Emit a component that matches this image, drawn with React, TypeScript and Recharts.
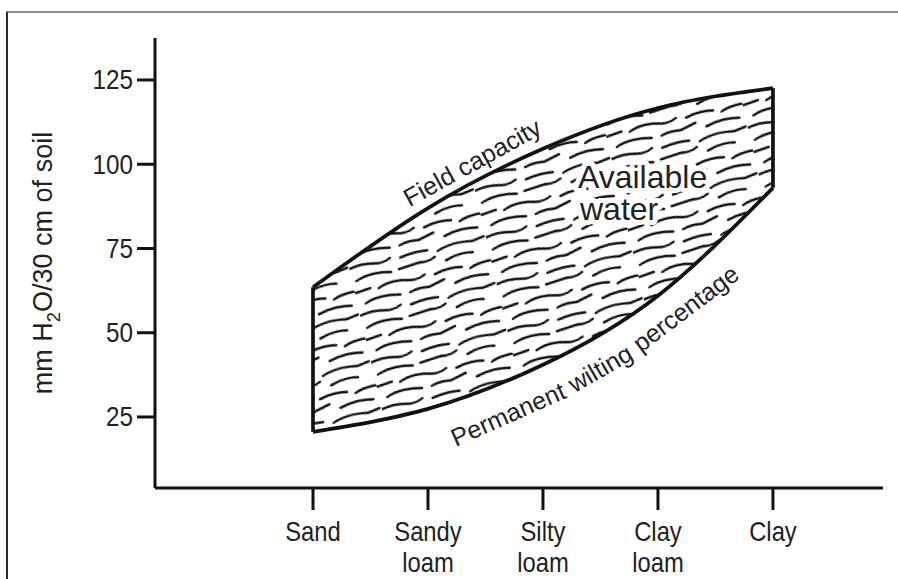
import React from 'react';
import { ComposedChart, Area, Line, XAxis, YAxis, ReferenceLine, ReferenceDot } from 'recharts';

const categories = ['Sand', 'Sandy loam', 'Silty loam', 'Clay loam', 'Clay'];
const categoryIndex = [0, 1, 2, 3, 4];
const fieldCapacity = [63.5, 87, 104.6, 116.7, 122.6];
const wiltingPercentage = [20.6, 27.4, 40.5, 61, 93];
const yTicks = [25, 50, 75, 100, 125];

const data = categories.map((c, i) => ({
  x: categoryIndex[i],
  name: c,
  fc: fieldCapacity[i],
  pwp: wiltingPercentage[i],
  range: [wiltingPercentage[i], fieldCapacity[i]],
}));

const FONT = "'Liberation Sans', Arial, Helvetica, sans-serif";
const INK = '#111';

const hatchPaths = [
  'M-4 6 Q10 1 26 5 Q34 7 42 3',
  'M52 5 Q66 2 80 4',
  'M90 7 Q106 1 126 5 L138 3',
  'M4 18 Q20 12 40 17',
  'M48 16 L70 14 Q78 16 86 12',
  'M96 18 Q110 13 124 16',
  'M-2 30 L16 28',
  'M24 30 Q38 24 56 29 Q64 31 72 27',
  'M82 29 Q96 25 110 28',
  'M118 31 Q128 27 142 28',
  'M8 42 Q22 36 44 41',
  'M54 41 Q62 38 74 40 L90 36',
  'M100 42 Q116 37 134 41',
];

const XTick = (props: any) => {
  const { x, y, payload } = props;
  const label = categories[payload.value] ?? '';
  const parts = label.split(' ');
  return (
    <g>
      {parts.map((p: string, i: number) => (
        <g key={i} transform={`translate(${x}, ${y + 27 + i * 31}) scale(0.85, 1)`}>
          <text x={0} y={0} textAnchor="middle" fontSize={28} fontFamily={FONT} fill="#222">
            {p}
          </text>
        </g>
      ))}
    </g>
  );
};

const YTick = (props: any) => {
  const { x, y, payload } = props;
  return (
    <g transform={`translate(${x}, ${y}) scale(0.9, 1)`}>
      <text x={0} y={0} textAnchor="end" dominantBaseline="central" fontSize={27} fontFamily={FONT} fill="#222">
        {payload.value}
      </text>
    </g>
  );
};

const YLabel = (props: any) => {
  const vb = props.viewBox || { x: 25, y: 38, width: 130, height: 450 };
  const cx = vb.x + 18;
  const cy = vb.y + vb.height / 2;
  return (
    <text
      x={cx}
      y={cy}
      transform={`rotate(-90, ${cx}, ${cy})`}
      textAnchor="middle"
      dominantBaseline="central"
      fontSize={27}
      fontFamily={FONT}
      fill="#222"
    >
      mm H<tspan baselineShift="sub" fontSize="68%">2</tspan>O/30 cm of soil
    </text>
  );
};

const makeText = (text: string, angle: number, size: number, anchor: string = 'middle', baseline: string = 'central', halo = false) =>
  (p: any) => (
    <text
      x={p.cx}
      y={p.cy}
      transform={`rotate(${angle}, ${p.cx}, ${p.cy})`}
      textAnchor={anchor as any}
      dominantBaseline={baseline as any}
      fontSize={size}
      fontFamily={FONT}
      fill="#222"
      stroke={halo ? '#fff' : 'none'}
      strokeWidth={halo ? 10 : 0}
      strokeLinejoin="round"
      paintOrder="stroke"
    >
      {text}
    </text>
  );

export default function App() {
  return (
    <div style={{ position: 'absolute', left: 0, top: 0, width: 898, height: 579, background: '#fff', overflow: 'hidden' }}>
      <div
        style={{
          position: 'absolute',
          left: 6,
          top: 11,
          right: -4,
          bottom: -4,
          borderTop: '2px solid #8a8a8a',
          borderLeft: '2px solid #2a2a2a',
        }}
      />
      <ComposedChart
        width={898}
        height={579}
        data={data}
        margin={{ top: 38, right: 15, bottom: 0, left: 25 }}
        style={{ position: 'absolute', left: 0, top: 0 }}
      >
        <defs>
          <pattern id="hatch" patternUnits="userSpaceOnUse" width="140" height="48" patternTransform="rotate(-13)">
            {hatchPaths.map((d, i) => (
              <path key={i} d={d} fill="none" stroke={INK} strokeWidth={2.4} strokeLinecap="round" />
            ))}
          </pattern>
        </defs>
        <XAxis
          type="number"
          dataKey="x"
          domain={[-1.374, 4.957]}
          allowDataOverflow
          ticks={categoryIndex}
          interval={0}
          tick={<XTick />}
          tickSize={22}
          tickMargin={4}
          height={91}
          axisLine={{ stroke: INK, strokeWidth: 3 }}
          tickLine={{ stroke: INK, strokeWidth: 3 }}
        />
        <YAxis
          type="number"
          domain={[3.93, 137.46]}
          allowDataOverflow
          ticks={yTicks}
          interval={0}
          width={130}
          tickSize={18}
          tickMargin={4}
          tick={<YTick />}
          axisLine={{ stroke: INK, strokeWidth: 3 }}
          tickLine={{ stroke: INK, strokeWidth: 3 }}
          label={<YLabel />}
        />
        <Area type="natural" dataKey="range" stroke="none" fill="url(#hatch)" fillOpacity={1} isAnimationActive={false} />
        <Line type="natural" dataKey="fc" stroke={INK} strokeWidth={3.7} dot={false} isAnimationActive={false} />
        <Line type="natural" dataKey="pwp" stroke={INK} strokeWidth={3.7} dot={false} isAnimationActive={false} />
        <ReferenceLine
          segment={[{ x: categoryIndex[0], y: wiltingPercentage[0] }, { x: categoryIndex[0], y: fieldCapacity[0] }]}
          stroke={INK}
          strokeWidth={3.7}
        />
        <ReferenceLine
          segment={[{ x: categoryIndex[4], y: wiltingPercentage[4] }, { x: categoryIndex[4], y: fieldCapacity[4] }]}
          stroke={INK}
          strokeWidth={3.7}
        />
        <ReferenceDot x={1.383} y={100.6} r={0} shape={makeText('Field capacity', -29, 25)} />
        <ReferenceDot x={1.696} y={25.9} r={0} shape={makeText('Permanent', -24, 25)} />
        <ReferenceDot x={2.496} y={39.5} r={0} shape={makeText('wilting', -30, 25)} />
        <ReferenceDot x={3.239} y={57.3} r={0} shape={makeText('percentage', -37, 25)} />
        <ReferenceDot x={2.304} y={92.95} r={0} shape={makeText('Available', 0, 32, 'start', 'auto', true)} />
        <ReferenceDot x={2.322} y={83.46} r={0} shape={makeText('water', 0, 32, 'start', 'auto', true)} />
      </ComposedChart>
    </div>
  );
}
